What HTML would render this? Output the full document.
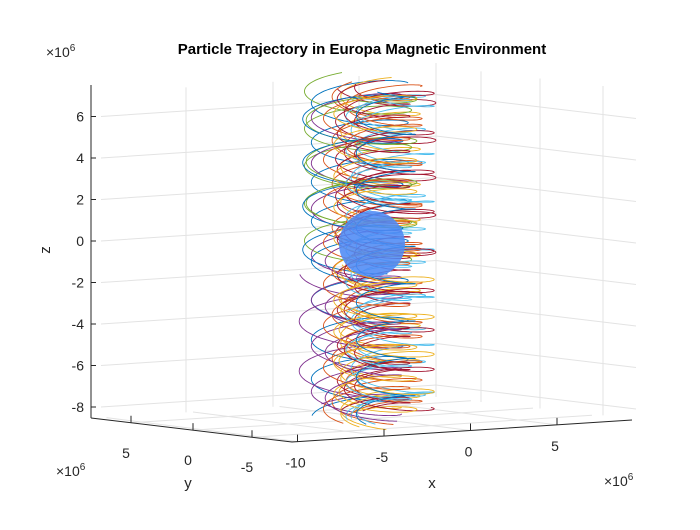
<!DOCTYPE html>
<html><head><meta charset="utf-8"><style>
body{margin:0;background:#fff;}
svg text{font-family:"Liberation Sans",sans-serif;fill:#262626;}
</style></head><body>
<svg id="chart" width="700" height="525" viewBox="0 0 700 525" xmlns="http://www.w3.org/2000/svg">
<rect width="700" height="525" fill="#fff"/>
<g id="grid" stroke="#e3e3e3" stroke-width="1" fill="none"></g>
<g id="traj" fill="none" stroke-width="0.9"></g>
<circle cx="372" cy="244" r="33" fill="#4d8af5" opacity="0.88"/>
<g id="axes" stroke="#262626" stroke-width="1" fill="none"></g>
<g id="labels" font-size="14"></g>
<text x="362" y="54" text-anchor="middle" font-size="15" font-weight="bold" style="fill:#000">Particle Trajectory in Europa Magnetic Environment</text>
<text x="46" y="57" font-size="14">×10<tspan dy="-6" font-size="10">6</tspan></text>
<text x="56" y="476" font-size="14">×10<tspan dy="-6" font-size="10">6</tspan></text>
<text x="604" y="486" font-size="14">×10<tspan dy="-6" font-size="10">6</tspan></text>
<text x="50" y="250" font-size="15" text-anchor="middle" transform="rotate(-90 50 250)">z</text>
<text x="188" y="488" font-size="15" text-anchor="middle">y</text>
<text x="432" y="488" font-size="15" text-anchor="middle">x</text>
</svg>
<script>
const zTicks=[6,4,2,0,-2,-4,-6,-8];
const xTicks=[-10,-5,0,5];
const yTicks=[5,0,-5];
const colors=["#0072BD","#D95319","#EDB120","#7E2F8E","#77AC30","#4DBEEE","#A2142F"];
// helix params: center x (1e6), radius (1e6), pitch (1e6 z per turn), phase, color idx, zStart, zEnd
const hxCenter=[-6.4,-5.4,-5.2,-6.9,-6.5,-4.6,-4.9,-6.6,-5.8,-5.0,-6.3,-5.1,-4.5,-6.8,-5.6,-4.8,-6.0,-5.3,-4.7,-6.2,-5.5,-4.9];
const hxRadius=[2.8,2.6,2.3,3.0,3.1,2.0,2.9,2.6,1.8,2.2,3.2,1.6,2.4,2.9,2.1,2.7,2.5,1.9,2.6,2.2,2.4,1.7];
const hxPitch=[1.9,2.1,1.7,2.4,1.8,1.6,1.8,2.2,1.5,1.9,2.0,1.6,2.3,2.1,1.7,1.8,2.0,1.6,1.9,2.2,1.5,1.8];
const hxPhase=[0,1.2,2.5,0.7,3.1,4.0,1.9,5.0,2.2,0.4,3.7,5.5,1.1,4.4,2.9,0.2,3.4,4.8,1.6,5.9,2.6,0.9];
const hxColor=[0,1,2,3,4,5,6,3,2,1,4,6,5,0,6,2,1,5,6,3,2,0];
const hxZ0=[-8.5,-8.4,-8.6,-8.3,-1.0,-8.5,-0.8,-8.4,-8.6,-8.5,0.2,-8.4,-8.5,-1.2,-8.3,-8.6,-8.4,-8.5,-8.2,-8.5,-8.4,-8.6];
const hxZ1=[7.6,7.3,7.5,-1.5,7.6,7.4,7.5,7.2,-2.0,7.6,7.4,7.5,7.3,7.5,7.4,-1.0,7.5,7.2,7.6,-0.5,7.4,7.5];
const SVG="http://www.w3.org/2000/svg";
const zpx=z=>241-z*20.75;
const xFront=x=>384+(x+5)*17.3;
function mk(tag,attrs,parent){const e=document.createElementNS(SVG,tag);for(const k in attrs)e.setAttribute(k,attrs[k]);parent.appendChild(e);return e;}
const grid=document.getElementById('grid'),axes=document.getElementById('axes'),lab=document.getElementById('labels'),traj=document.getElementById('traj');
zTicks.forEach(z=>{const y=zpx(z);
 let l=mk('polyline',{points:`101,${y} 436,${y-22} 636,${y+2}`},grid);
 
 });
[186,273,359].forEach(x=>{const t=(x-101)/335;let l=mk('line',{x1:x,y1:85-t*22+8,x2:x,y2:418-t*22},grid);
 
 });
[481,540,603].forEach(x=>{const t=(x-436)/200;let l=mk('line',{x1:x,y1:66+t*24,x2:x,y2:397+t*22},grid);
 
 });
mk('line',{x1:436,y1:63,x2:436,y2:397},grid);
xTicks.forEach(x=>{const px=xFront(x);const t=(px-292)/340;mk('line',{x1:px,y1:442-t*22,x2:px-191,y2:418-t*22},grid);});
yTicks.forEach((y,i)=>{const px=[131,193,252][i];const t=(px-91)/201;mk('line',{x1:px,y1:418+t*24,x2:px+340,y2:396+t*24},grid);});
hxCenter.forEach((c,i)=>{let pts=[];const cx=xFront(c),r=hxRadius[i]*17.3;
 for(let z=hxZ0[i];z<=hxZ1[i];z+=0.025){const t=hxPhase[i]+2*Math.PI*z/hxPitch[i];pts.push((cx+r*Math.cos(t)).toFixed(1)+','+(zpx(z)+r*0.22*Math.sin(t)).toFixed(1));}
 const p=mk('polyline',{points:pts.join(' '),stroke:colors[hxColor[i]]},traj);
 
 });
mk('line',{x1:91,y1:85,x2:91,y2:418},axes);
mk('polyline',{points:'91,418 292,442 632,420'},axes);
zTicks.forEach(z=>{const y=zpx(z);mk('line',{x1:91,y1:y,x2:96,y2:y},axes);
 const t=mk('text',{x:84,y:y+5,'text-anchor':'end'},lab);t.textContent=z;
 
 });
xTicks.forEach(x=>{const px=xFront(x);const t0=(px-292)/340;const y=442-t0*22;mk('line',{x1:px,y1:y,x2:px,y2:y-7},axes);
 const t=mk('text',{x:px-2,y:y+26,'text-anchor':'middle'},lab);t.textContent=x;
 
 });
[131,193,252].forEach((px,i)=>{const t0=(px-91)/201;const y=418+t0*24;mk('line',{x1:px,y1:y,x2:px,y2:y-7},axes);
 const t=mk('text',{x:px-5,y:y+35,'text-anchor':'middle'},lab);t.textContent=yTicks[i];
 
 });
</script>
</body></html>
